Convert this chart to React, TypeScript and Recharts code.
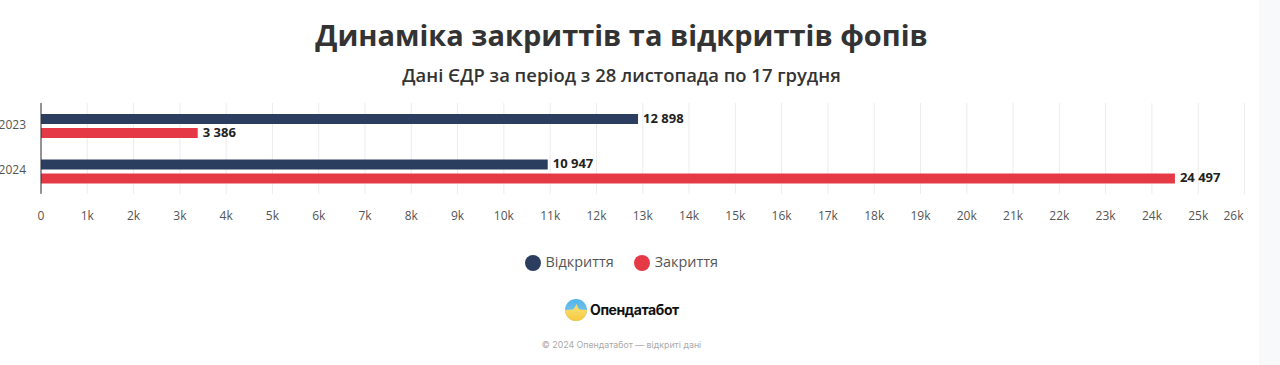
import { Bar, BarChart, CartesianGrid, LabelList, Legend, XAxis, YAxis } from 'recharts';

const years = ['2023', '2024'];
const openings = [12898, 10947];
const closings = [3386, 24497];
const xTicks = [
  0, 1000, 2000, 3000, 4000, 5000, 6000, 7000, 8000, 9000, 10000, 11000, 12000, 13000,
  14000, 15000, 16000, 17000, 18000, 19000, 20000, 21000, 22000, 23000, 24000, 25000, 26000,
];

const data = years.map((year, i) => ({ year, open: openings[i], close: closings[i] }));

const font = '"Open Sans", "Noto Sans", sans-serif';

const fmtValue = (v: number) => String(v).replace(/\B(?=(\d{3})+$)/g, '\u00a0');

// the last tick label sits inside the plot edge
function XTick({ x, y, payload }: any) {
  const v = payload.value;
  const last = v === 26000;
  return (
    <text
      x={last ? x - 1 : x}
      y={y}
      dy={18}
      textAnchor={last ? 'end' : 'middle'}
      fontSize={12}
      fontFamily={font}
      fill="#555"
    >
      {v === 0 ? '0' : `${v / 1000}k`}
    </text>
  );
}

function Logo() {
  return (
    <svg width={22} height={22} viewBox="0 0 22 22" style={{ display: 'block' }}>
      <defs>
        <linearGradient id="sky" x1="0" y1="0" x2="0" y2="1">
          <stop offset="0" stopColor="#4fb4ea" />
          <stop offset="1" stopColor="#8fcbe8" />
        </linearGradient>
        <linearGradient id="sun" x1="0" y1="0" x2="0" y2="1">
          <stop offset="0" stopColor="#fbe27a" />
          <stop offset="1" stopColor="#f6c93c" />
        </linearGradient>
        <clipPath id="disc">
          <circle cx={11} cy={11} r={11} />
        </clipPath>
      </defs>
      <g clipPath="url(#disc)">
        <rect width={22} height={22} fill="url(#sky)" />
        <path d="M0 11 L8 10.5 L10 8 L11.5 5 L13 9 L15 10.5 L22 11 L22 22 L0 22 Z" fill="url(#sun)" />
      </g>
    </svg>
  );
}

export default function App() {
  return (
    <div style={{ position: 'absolute', left: 0, top: 0, width: 1280, height: 365, background: '#fff', overflow: 'hidden', fontFamily: font }}>
      <div style={{ position: 'absolute', left: 1259, top: 0, width: 21, height: 365, background: '#f8f9fa' }} />
      <div style={{ position: 'absolute', left: 0, top: 13, width: 1243, textAlign: 'center', fontSize: 29, lineHeight: '44px', fontWeight: 700, color: '#333' }}>
        Динаміка закриттів та відкриттів фопів
      </div>
      <div style={{ position: 'absolute', left: 0, top: 62, width: 1243, textAlign: 'center', fontSize: 18.4, lineHeight: '26px', fontWeight: 600, color: '#333' }}>
        Дані ЄДР за період з 28 листопада по 17 грудня
      </div>
      <div style={{ position: 'absolute', left: 0, top: 0 }}>
        <BarChart
          width={1259}
          height={280}
          data={data}
          layout="vertical"
          margin={{ top: 103, right: 14.5, bottom: 0, left: 0 }}
          barSize={10}
          barGap={4}
          barCategoryGap={0}
        >
          <CartesianGrid horizontal={false} stroke="#ececec" />
          <XAxis
            type="number"
            domain={[0, 26000]}
            ticks={xTicks}
            interval={0}
            axisLine={false}
            tickLine={false}
            height={67}
            tick={<XTick />}
          />
          <YAxis
            type="category"
            dataKey="year"
            width={41}
            axisLine={{ stroke: '#333' }}
            tickLine={false}
            tick={{ fontSize: 12, fill: '#555', fontFamily: font, dy: -1 }}
            tickMargin={9}
          />
          <Legend
            verticalAlign="bottom"
            align="center"
            iconType="circle"
            iconSize={16}
            wrapperStyle={{ fontSize: 14.4, fontFamily: font, bottom: 9, paddingLeft: 9 }}
            formatter={(value) => <span style={{ color: '#555', marginLeft: 1, marginRight: 10 }}>{value}</span>}
          />
          <Bar dataKey="open" name="Відкриття" fill="#2b3e60" isAnimationActive={false}>
            <LabelList dataKey="open" position="right" offset={5} dy={-1} formatter={fmtValue} fontSize={13} fontWeight={700} fontFamily={font} fill="#222" />
          </Bar>
          <Bar dataKey="close" name="Закриття" fill="#e63946" isAnimationActive={false}>
            <LabelList dataKey="close" position="right" offset={5} dy={-1} formatter={fmtValue} fontSize={13} fontWeight={700} fontFamily={font} fill="#222" />
          </Bar>
        </BarChart>
      </div>
      <div style={{ position: 'absolute', left: 565, top: 299, display: 'flex', alignItems: 'center' }}>
        <Logo />
        <span style={{ marginLeft: 3, fontSize: 14, lineHeight: '22px', fontWeight: 700, color: '#111', fontFamily: '"Inter", sans-serif', letterSpacing: -0.4 }}>Опендатабот</span>
      </div>
      <div style={{ position: 'absolute', left: 0, top: 338, width: 1243, textAlign: 'center', fontSize: 8.8, lineHeight: '14px', color: '#aaa', fontFamily: '"Inter", sans-serif' }}>
        © 2024 Опендатабот — відкриті дані
      </div>
    </div>
  );
}
